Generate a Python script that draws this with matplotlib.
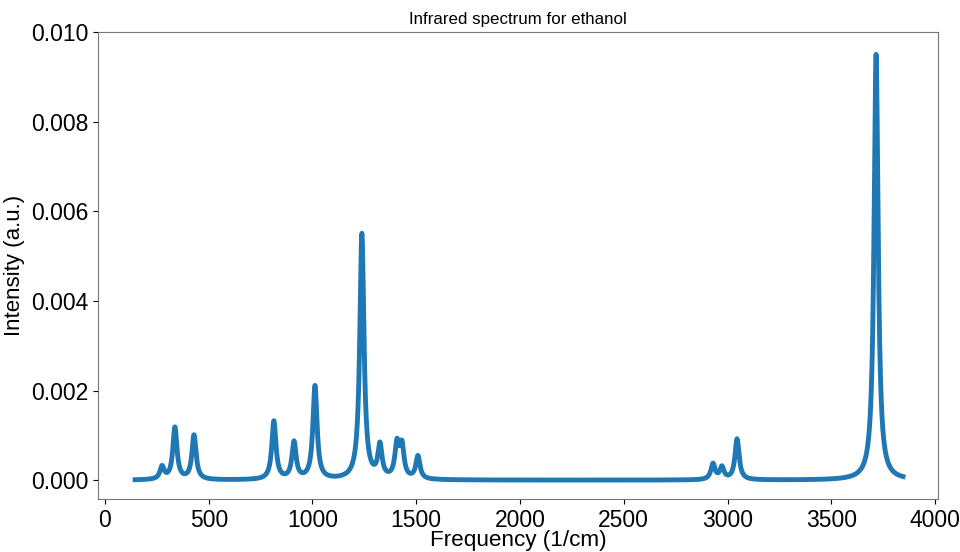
import numpy as np
import matplotlib.pyplot as plt

plt.rcParams['font.family'] = ['Liberation Sans', 'DejaVu Sans']

# peak positions (1/cm) and peak intensities (a.u.)
freqs = [275, 337, 429, 814, 911, 1012, 1238, 1325, 1407, 1431, 1508,
         2930, 2973, 3046, 3716]
heights = [0.00028, 0.00116, 0.00099, 0.00130, 0.00082, 0.00208, 0.00548,
           0.00072, 0.00074, 0.00070, 0.00051, 0.00035, 0.00027, 0.00091, 0.00950]
hwhm = 12.0
x_start, x_end = 145, 3846

x = np.linspace(x_start, x_end, 8000)
y = np.zeros_like(x)
for f, h in zip(freqs, heights):
    y += h * hwhm**2 / ((x - f)**2 + hwhm**2)

fig, ax = plt.subplots(figsize=(9.6, 5.52), dpi=100)
fig.subplots_adjust(left=0.102, right=0.977, top=0.942, bottom=0.096)
ax.plot(x, y, color='#1f77b4', linewidth=3.5)
ax.set_xlim(-34, 4014)
ax.set_ylim(-0.00042, 0.010)
ax.set_title('Infrared spectrum for ethanol', fontsize=12.2)
ax.set_xlabel('Frequency (1/cm)', fontsize=16.2, labelpad=-1)
ax.set_ylabel('Intensity (a.u.)', fontsize=16)
ax.tick_params(labelsize=16.5)
for s in ax.spines.values():
    s.set_color('#777777')
fig.savefig('out.png', dpi=100)
